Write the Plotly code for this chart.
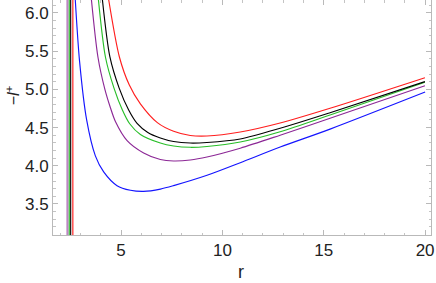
import plotly.graph_objects as go

# ---- data ----
r_blue = [2.74, 2.95, 3.30, 3.73, 4.14, 4.80, 5.46, 6.11, 6.94, 7.59, 9.24, 10.88, 12.85, 15.31, 20.0]
l_blue = [6.17, 5.37, 4.60, 4.13, 3.92, 3.74, 3.68, 3.665, 3.695, 3.74, 3.875, 4.04, 4.245, 4.48, 4.965]

r_purple = [3.537, 3.857, 4.200, 4.473, 4.719, 5.296, 6.113, 6.936, 7.591, 8.414, 9.236, 10.877, 12.847, 15.310, 19.990]
l_purple = [6.170, 5.424, 5.000, 4.760, 4.580, 4.330, 4.168, 4.082, 4.063, 4.076, 4.115, 4.230, 4.400, 4.622, 5.048]

r_green = [3.882, 4.227, 4.645, 5.064, 5.424, 5.951, 6.936, 7.591, 8.414, 9.236, 10.877, 12.847, 15.310, 19.990]
l_green = [6.170, 5.424, 5.020, 4.730, 4.550, 4.410, 4.298, 4.259, 4.242, 4.253, 4.312, 4.446, 4.665, 5.093]

r_black = [4.079, 4.448, 4.900, 5.374, 5.788, 6.300, 6.936, 7.591, 8.414, 9.236, 10.877, 12.847, 15.310, 19.990]
l_black = [6.170, 5.424, 5.020, 4.730, 4.555, 4.440, 4.364, 4.318, 4.298, 4.305, 4.351, 4.491, 4.695, 5.101]

r_red = [4.389, 4.916, 5.400, 5.951, 6.788, 7.591, 8.414, 9.236, 10.877, 12.847, 15.310, 19.990]
l_red = [6.170, 5.424, 5.060, 4.810, 4.565, 4.452, 4.397, 4.390, 4.442, 4.560, 4.753, 5.153]

# vertical jumps (poles) seen near the left edge
pole_r = {"purple": 2.355, "green": 2.443, "black": 2.512, "red": 2.616}

x_ticks = [5, 10, 15, 20]
y_ticks = [3.5, 4.0, 4.5, 5.0, 5.5, 6.0]
x_range = [1.64, 20.29]
y_range = [3.094, 6.17]

colors = {
    "blue": "rgb(20,20,255)",
    "purple": "rgb(140,40,150)",
    "green": "rgb(40,190,40)",
    "black": "rgb(0,0,0)",
    "red": "rgb(255,30,30)",
}

FONT = "Liberation Sans, Arial, sans-serif"

fig = go.Figure()

pole_styles = {
    "purple": dict(color="rgba(160,80,170,0.7)", width=2.2),
    "green": dict(color=colors["green"], width=1.1),
    "black": dict(color=colors["black"], width=1.1),
    "red": dict(color="rgba(255,60,60,0.85)", width=1.6),
}
for name, rp in pole_r.items():
    fig.add_trace(go.Scatter(x=[rp, rp], y=[y_range[0] - 1, y_range[1] + 1], mode="lines",
                             line=pole_styles[name], showlegend=False, hoverinfo="skip"))

for name, xs, ys in [("blue", r_blue, l_blue), ("purple", r_purple, l_purple),
                     ("green", r_green, l_green), ("black", r_black, l_black),
                     ("red", r_red, l_red)]:
    fig.add_trace(go.Scatter(x=xs, y=ys, mode="lines",
                             line=dict(color=colors[name], width=1.15, shape="spline", smoothing=0.8),
                             showlegend=False))

axis_common = dict(
    showgrid=False, zeroline=False, showline=True, linecolor="#b9b9b9", linewidth=1,
    mirror="ticks", ticks="inside", tickcolor="#b9b9b9", ticklen=5, tickwidth=1,
    automargin=False,
    tickfont=dict(family=FONT, size=17, color="#222"),
)

fig.update_layout(
    width=436, height=283,
    margin=dict(l=53, r=5, t=0, b=48),
    paper_bgcolor="white", plot_bgcolor="white",
    xaxis=dict(range=x_range, tickvals=x_ticks, ticktext=[str(v) for v in x_ticks],
               minor=dict(dtick=1, tick0=0, ticks="inside", ticklen=2.5, tickcolor="#c4c4c4"),
               **axis_common),
    yaxis=dict(range=y_range, tickvals=y_ticks, ticktext=[f"{v:.1f}" for v in y_ticks],
               minor=dict(dtick=0.1, tick0=0, ticks="inside", ticklen=2.5, tickcolor="#c4c4c4"),
               **axis_common),
    annotations=[
        dict(text="r", xref="x", yref="paper", x=10.93, y=0, yshift=-37,
             xanchor="center", yanchor="middle", showarrow=False,
             font=dict(family=FONT, size=18, color="#222")),
        dict(text="\u2212<i>l</i><sup>+</sup>", xref="paper", yref="y", x=0, xshift=-40, y=4.91,
             xanchor="center", yanchor="middle", textangle=-90, showarrow=False,
             font=dict(family=FONT, size=16, color="#222")),
    ],
)

fig.write_html("out.html", config={"displayModeBar": False},
               post_script="document.body.style.margin='0';")
